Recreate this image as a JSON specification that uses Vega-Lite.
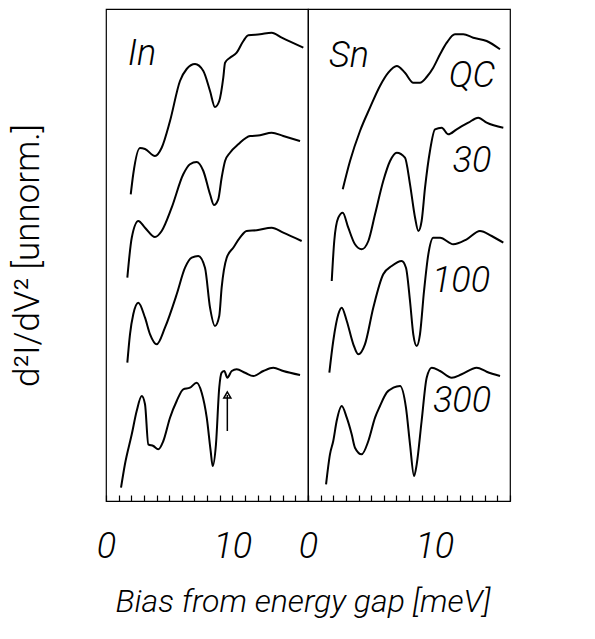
{
  "$schema": "https://vega.github.io/schema/vega-lite/v6.json",
  "background": "white",
  "padding": {"left": 10, "top": 8, "right": 5, "bottom": 5},
  "spacing": 0,
  "bounds": "flush",
  "config": {
    "view": {"stroke": "black", "strokeWidth": 1.2},
    "font": "Roboto"
  },
  "data": {"values": [
    {"panel":"In","kind":"curve","curve":"QC","x":1.96,"y":306.7},
    {"panel":"In","kind":"curve","curve":"QC","x":2.16,"y":327},
    {"panel":"In","kind":"curve","curve":"QC","x":2.69,"y":353},
    {"panel":"In","kind":"curve","curve":"QC","x":3.09,"y":352},
    {"panel":"In","kind":"curve","curve":"QC","x":3.88,"y":345},
    {"panel":"In","kind":"curve","curve":"QC","x":4.41,"y":353.3},
    {"panel":"In","kind":"curve","curve":"QC","x":5.07,"y":380},
    {"panel":"In","kind":"curve","curve":"QC","x":5.86,"y":420},
    {"panel":"In","kind":"curve","curve":"QC","x":6.39,"y":432},
    {"panel":"In","kind":"curve","curve":"QC","x":7.05,"y":437},
    {"panel":"In","kind":"curve","curve":"QC","x":7.71,"y":430},
    {"panel":"In","kind":"curve","curve":"QC","x":8.24,"y":410},
    {"panel":"In","kind":"curve","curve":"QC","x":8.63,"y":394},
    {"panel":"In","kind":"curve","curve":"QC","x":8.97,"y":400},
    {"panel":"In","kind":"curve","curve":"QC","x":9.29,"y":423.3},
    {"panel":"In","kind":"curve","curve":"QC","x":9.43,"y":438.3},
    {"panel":"In","kind":"curve","curve":"QC","x":9.82,"y":443.3},
    {"panel":"In","kind":"curve","curve":"QC","x":10.35,"y":448.3},
    {"panel":"In","kind":"curve","curve":"QC","x":10.88,"y":460},
    {"panel":"In","kind":"curve","curve":"QC","x":11.27,"y":465.7},
    {"panel":"In","kind":"curve","curve":"QC","x":12.2,"y":466.7},
    {"panel":"In","kind":"curve","curve":"QC","x":13.12,"y":468.3},
    {"panel":"In","kind":"curve","curve":"QC","x":13.92,"y":463.3},
    {"panel":"In","kind":"curve","curve":"QC","x":15.63,"y":453.3},

    {"panel":"In","kind":"curve","curve":"30","x":1.69,"y":223.3},
    {"panel":"In","kind":"curve","curve":"30","x":2.04,"y":263.3},
    {"panel":"In","kind":"curve","curve":"30","x":2.56,"y":280},
    {"panel":"In","kind":"curve","curve":"30","x":3.09,"y":273.3},
    {"panel":"In","kind":"curve","curve":"30","x":3.88,"y":264},
    {"panel":"In","kind":"curve","curve":"30","x":4.41,"y":270},
    {"panel":"In","kind":"curve","curve":"30","x":5.2,"y":293.3},
    {"panel":"In","kind":"curve","curve":"30","x":6.12,"y":326.7},
    {"panel":"In","kind":"curve","curve":"30","x":6.65,"y":336.7},
    {"panel":"In","kind":"curve","curve":"30","x":7.18,"y":339},
    {"panel":"In","kind":"curve","curve":"30","x":7.71,"y":330},
    {"panel":"In","kind":"curve","curve":"30","x":8.24,"y":306.7},
    {"panel":"In","kind":"curve","curve":"30","x":8.55,"y":296},
    {"panel":"In","kind":"curve","curve":"30","x":8.89,"y":301.7},
    {"panel":"In","kind":"curve","curve":"30","x":9.16,"y":323.3},
    {"panel":"In","kind":"curve","curve":"30","x":9.43,"y":340},
    {"panel":"In","kind":"curve","curve":"30","x":9.82,"y":348.3},
    {"panel":"In","kind":"curve","curve":"30","x":10.48,"y":356.7},
    {"panel":"In","kind":"curve","curve":"30","x":11.41,"y":365},
    {"panel":"In","kind":"curve","curve":"30","x":12.2,"y":365.7},
    {"panel":"In","kind":"curve","curve":"30","x":13.12,"y":368.3},
    {"panel":"In","kind":"curve","curve":"30","x":14.04,"y":365},
    {"panel":"In","kind":"curve","curve":"30","x":15.37,"y":360},

    {"panel":"In","kind":"curve","curve":"100","x":1.69,"y":138.3},
    {"panel":"In","kind":"curve","curve":"100","x":1.9,"y":166.7},
    {"panel":"In","kind":"curve","curve":"100","x":2.16,"y":186.7},
    {"panel":"In","kind":"curve","curve":"100","x":2.56,"y":198.3},
    {"panel":"In","kind":"curve","curve":"100","x":3.09,"y":183.3},
    {"panel":"In","kind":"curve","curve":"100","x":3.49,"y":166.7},
    {"panel":"In","kind":"curve","curve":"100","x":4.02,"y":156.7},
    {"panel":"In","kind":"curve","curve":"100","x":4.67,"y":173.3},
    {"panel":"In","kind":"curve","curve":"100","x":5.6,"y":206.7},
    {"panel":"In","kind":"curve","curve":"100","x":6.26,"y":233.3},
    {"panel":"In","kind":"curve","curve":"100","x":6.79,"y":243.3},
    {"panel":"In","kind":"curve","curve":"100","x":7.31,"y":245},
    {"panel":"In","kind":"curve","curve":"100","x":7.84,"y":233.3},
    {"panel":"In","kind":"curve","curve":"100","x":8.24,"y":193.3},
    {"panel":"In","kind":"curve","curve":"100","x":8.63,"y":175},
    {"panel":"In","kind":"curve","curve":"100","x":8.97,"y":185},
    {"panel":"In","kind":"curve","curve":"100","x":9.16,"y":213.3},
    {"panel":"In","kind":"curve","curve":"100","x":9.56,"y":243.3},
    {"panel":"In","kind":"curve","curve":"100","x":10.08,"y":253.3},
    {"panel":"In","kind":"curve","curve":"100","x":10.61,"y":263.3},
    {"panel":"In","kind":"curve","curve":"100","x":11.14,"y":270},
    {"panel":"In","kind":"curve","curve":"100","x":11.94,"y":270.7},
    {"panel":"In","kind":"curve","curve":"100","x":13.12,"y":273.3},
    {"panel":"In","kind":"curve","curve":"100","x":14.04,"y":268.3},
    {"panel":"In","kind":"curve","curve":"100","x":15.5,"y":260},

    {"panel":"In","kind":"curve","curve":"300","x":1.19,"y":13.3},
    {"panel":"In","kind":"curve","curve":"300","x":1.5,"y":36.7},
    {"panel":"In","kind":"curve","curve":"300","x":2.04,"y":66.7},
    {"panel":"In","kind":"curve","curve":"300","x":2.43,"y":90},
    {"panel":"In","kind":"curve","curve":"300","x":2.83,"y":105},
    {"panel":"In","kind":"curve","curve":"300","x":3.09,"y":96.7},
    {"panel":"In","kind":"curve","curve":"300","x":3.35,"y":56.7},
    {"panel":"In","kind":"curve","curve":"300","x":3.75,"y":55},
    {"panel":"In","kind":"curve","curve":"300","x":4.14,"y":51.7},
    {"panel":"In","kind":"curve","curve":"300","x":4.54,"y":60},
    {"panel":"In","kind":"curve","curve":"300","x":5.07,"y":83.3},
    {"panel":"In","kind":"curve","curve":"300","x":5.6,"y":100},
    {"panel":"In","kind":"curve","curve":"300","x":6.12,"y":111.7},
    {"panel":"In","kind":"curve","curve":"300","x":6.65,"y":113.3},
    {"panel":"In","kind":"curve","curve":"300","x":7.18,"y":118.3},
    {"panel":"In","kind":"curve","curve":"300","x":7.58,"y":108.3},
    {"panel":"In","kind":"curve","curve":"300","x":7.98,"y":83.3},
    {"panel":"In","kind":"curve","curve":"300","x":8.29,"y":50},
    {"panel":"In","kind":"curve","curve":"300","x":8.45,"y":35},
    {"panel":"In","kind":"curve","curve":"300","x":8.71,"y":56.7},
    {"panel":"In","kind":"curve","curve":"300","x":8.97,"y":113.3},
    {"panel":"In","kind":"curve","curve":"300","x":9.16,"y":128.3},
    {"panel":"In","kind":"curve","curve":"300","x":9.37,"y":130},
    {"panel":"In","kind":"curve","curve":"300","x":9.61,"y":123.3},
    {"panel":"In","kind":"curve","curve":"300","x":9.96,"y":130},
    {"panel":"In","kind":"curve","curve":"300","x":10.35,"y":131.7},
    {"panel":"In","kind":"curve","curve":"300","x":11.01,"y":128.3},
    {"panel":"In","kind":"curve","curve":"300","x":11.67,"y":125},
    {"panel":"In","kind":"curve","curve":"300","x":12.46,"y":130},
    {"panel":"In","kind":"curve","curve":"300","x":13.25,"y":133.3},
    {"panel":"In","kind":"curve","curve":"300","x":14.04,"y":130},
    {"panel":"In","kind":"curve","curve":"300","x":15.37,"y":126},

    {"panel":"Sn","kind":"curve","curve":"QC","x":2.75,"y":311.7},
    {"panel":"Sn","kind":"curve","curve":"QC","x":3.33,"y":340},
    {"panel":"Sn","kind":"curve","curve":"QC","x":4.12,"y":370},
    {"panel":"Sn","kind":"curve","curve":"QC","x":4.91,"y":393.3},
    {"panel":"Sn","kind":"curve","curve":"QC","x":5.7,"y":415},
    {"panel":"Sn","kind":"curve","curve":"QC","x":6.36,"y":428.3},
    {"panel":"Sn","kind":"curve","curve":"QC","x":7.03,"y":435},
    {"panel":"Sn","kind":"curve","curve":"QC","x":7.68,"y":428.3},
    {"panel":"Sn","kind":"curve","curve":"QC","x":8.34,"y":418.3},
    {"panel":"Sn","kind":"curve","curve":"QC","x":8.87,"y":418.3},
    {"panel":"Sn","kind":"curve","curve":"QC","x":9.4,"y":424},
    {"panel":"Sn","kind":"curve","curve":"QC","x":9.92,"y":433.3},
    {"panel":"Sn","kind":"curve","curve":"QC","x":10.46,"y":446.7},
    {"panel":"Sn","kind":"curve","curve":"QC","x":10.99,"y":458.3},
    {"panel":"Sn","kind":"curve","curve":"QC","x":11.64,"y":466.7},
    {"panel":"Sn","kind":"curve","curve":"QC","x":12.3,"y":466.7},
    {"panel":"Sn","kind":"curve","curve":"QC","x":13.09,"y":463.3},
    {"panel":"Sn","kind":"curve","curve":"QC","x":14.15,"y":460},
    {"panel":"Sn","kind":"curve","curve":"QC","x":15.21,"y":451.7},

    {"panel":"Sn","kind":"curve","curve":"30","x":1.88,"y":220},
    {"panel":"Sn","kind":"curve","curve":"30","x":2.08,"y":260},
    {"panel":"Sn","kind":"curve","curve":"30","x":2.4,"y":283.3},
    {"panel":"Sn","kind":"curve","curve":"30","x":2.75,"y":288.3},
    {"panel":"Sn","kind":"curve","curve":"30","x":3.19,"y":273.3},
    {"panel":"Sn","kind":"curve","curve":"30","x":3.72,"y":256.7},
    {"panel":"Sn","kind":"curve","curve":"30","x":4.25,"y":251.7},
    {"panel":"Sn","kind":"curve","curve":"30","x":4.78,"y":260},
    {"panel":"Sn","kind":"curve","curve":"30","x":5.31,"y":286.7},
    {"panel":"Sn","kind":"curve","curve":"30","x":5.96,"y":320},
    {"panel":"Sn","kind":"curve","curve":"30","x":6.5,"y":340},
    {"panel":"Sn","kind":"curve","curve":"30","x":7.03,"y":348.3},
    {"panel":"Sn","kind":"curve","curve":"30","x":7.68,"y":343.3},
    {"panel":"Sn","kind":"curve","curve":"30","x":8.08,"y":316.7},
    {"panel":"Sn","kind":"curve","curve":"30","x":8.48,"y":283.3},
    {"panel":"Sn","kind":"curve","curve":"30","x":8.74,"y":270},
    {"panel":"Sn","kind":"curve","curve":"30","x":9.0,"y":280},
    {"panel":"Sn","kind":"curve","curve":"30","x":9.27,"y":313.3},
    {"panel":"Sn","kind":"curve","curve":"30","x":9.66,"y":350},
    {"panel":"Sn","kind":"curve","curve":"30","x":10.06,"y":371.7},
    {"panel":"Sn","kind":"curve","curve":"30","x":10.59,"y":373.3},
    {"panel":"Sn","kind":"curve","curve":"30","x":11.11,"y":366.7},
    {"panel":"Sn","kind":"curve","curve":"30","x":11.78,"y":371.7},
    {"panel":"Sn","kind":"curve","curve":"30","x":12.7,"y":378.3},
    {"panel":"Sn","kind":"curve","curve":"30","x":13.49,"y":383.3},
    {"panel":"Sn","kind":"curve","curve":"30","x":14.15,"y":378.3},
    {"panel":"Sn","kind":"curve","curve":"30","x":15.47,"y":373.3},

    {"panel":"Sn","kind":"curve","curve":"100","x":1.69,"y":128.3},
    {"panel":"Sn","kind":"curve","curve":"100","x":2.0,"y":160},
    {"panel":"Sn","kind":"curve","curve":"100","x":2.4,"y":186.7},
    {"panel":"Sn","kind":"curve","curve":"100","x":2.67,"y":193.3},
    {"panel":"Sn","kind":"curve","curve":"100","x":3.07,"y":180},
    {"panel":"Sn","kind":"curve","curve":"100","x":3.59,"y":156.7},
    {"panel":"Sn","kind":"curve","curve":"100","x":3.98,"y":146.7},
    {"panel":"Sn","kind":"curve","curve":"100","x":4.51,"y":156.7},
    {"panel":"Sn","kind":"curve","curve":"100","x":5.17,"y":193.3},
    {"panel":"Sn","kind":"curve","curve":"100","x":5.96,"y":226.7},
    {"panel":"Sn","kind":"curve","curve":"100","x":6.63,"y":235},
    {"panel":"Sn","kind":"curve","curve":"100","x":7.42,"y":240},
    {"panel":"Sn","kind":"curve","curve":"100","x":7.76,"y":233.3},
    {"panel":"Sn","kind":"curve","curve":"100","x":8.08,"y":200},
    {"panel":"Sn","kind":"curve","curve":"100","x":8.34,"y":166.7},
    {"panel":"Sn","kind":"curve","curve":"100","x":8.61,"y":155},
    {"panel":"Sn","kind":"curve","curve":"100","x":8.87,"y":166.7},
    {"panel":"Sn","kind":"curve","curve":"100","x":9.19,"y":210},
    {"panel":"Sn","kind":"curve","curve":"100","x":9.53,"y":246.7},
    {"panel":"Sn","kind":"curve","curve":"100","x":9.92,"y":263.3},
    {"panel":"Sn","kind":"curve","curve":"100","x":10.46,"y":263.3},
    {"panel":"Sn","kind":"curve","curve":"100","x":11.51,"y":256.7},
    {"panel":"Sn","kind":"curve","curve":"100","x":12.57,"y":261.7},
    {"panel":"Sn","kind":"curve","curve":"100","x":13.62,"y":270},
    {"panel":"Sn","kind":"curve","curve":"100","x":14.55,"y":265},
    {"panel":"Sn","kind":"curve","curve":"100","x":15.47,"y":258.3},

    {"panel":"Sn","kind":"curve","curve":"300","x":1.43,"y":16.7},
    {"panel":"Sn","kind":"curve","curve":"300","x":1.74,"y":46.7},
    {"panel":"Sn","kind":"curve","curve":"300","x":2.0,"y":60},
    {"panel":"Sn","kind":"curve","curve":"300","x":2.27,"y":80},
    {"panel":"Sn","kind":"curve","curve":"300","x":2.67,"y":95},
    {"panel":"Sn","kind":"curve","curve":"300","x":3.07,"y":83.3},
    {"panel":"Sn","kind":"curve","curve":"300","x":3.46,"y":66.7},
    {"panel":"Sn","kind":"curve","curve":"300","x":3.72,"y":53.3},
    {"panel":"Sn","kind":"curve","curve":"300","x":4.25,"y":46.7},
    {"panel":"Sn","kind":"curve","curve":"300","x":4.78,"y":60},
    {"panel":"Sn","kind":"curve","curve":"300","x":5.31,"y":83.3},
    {"panel":"Sn","kind":"curve","curve":"300","x":5.7,"y":95},
    {"panel":"Sn","kind":"curve","curve":"300","x":6.23,"y":108.3},
    {"panel":"Sn","kind":"curve","curve":"300","x":6.76,"y":113.3},
    {"panel":"Sn","kind":"curve","curve":"300","x":7.29,"y":115},
    {"panel":"Sn","kind":"curve","curve":"300","x":7.76,"y":93.3},
    {"panel":"Sn","kind":"curve","curve":"300","x":8.08,"y":56.7},
    {"panel":"Sn","kind":"curve","curve":"300","x":8.4,"y":25},
    {"panel":"Sn","kind":"curve","curve":"300","x":8.61,"y":36.7},
    {"panel":"Sn","kind":"curve","curve":"300","x":9.0,"y":80},
    {"panel":"Sn","kind":"curve","curve":"300","x":9.4,"y":123.3},
    {"panel":"Sn","kind":"curve","curve":"300","x":9.8,"y":133.3},
    {"panel":"Sn","kind":"curve","curve":"300","x":10.46,"y":130},
    {"panel":"Sn","kind":"curve","curve":"300","x":11.38,"y":123.3},
    {"panel":"Sn","kind":"curve","curve":"300","x":12.17,"y":126.7},
    {"panel":"Sn","kind":"curve","curve":"300","x":13.36,"y":133.3},
    {"panel":"Sn","kind":"curve","curve":"300","x":14.15,"y":129.3},
    {"panel":"Sn","kind":"curve","curve":"300","x":15.21,"y":125},

    {"panel":"In","kind":"label","text":"In","x":2.85,"y":447},
    {"panel":"Sn","kind":"label","text":"Sn","x":3.25,"y":445},
    {"panel":"Sn","kind":"label","text":"QC","x":12.99,"y":425},
    {"panel":"Sn","kind":"label","text":"30","x":12.99,"y":340},
    {"panel":"Sn","kind":"label","text":"100","x":12.12,"y":220},
    {"panel":"Sn","kind":"label","text":"300","x":12.2,"y":100},

    {"panel":"In","kind":"arrow","x":9.61,"y":70,"y2":106}
  ]},
  "facet": {
    "column": {
      "field": "panel", "type": "nominal", "sort": ["In", "Sn"],
      "header": {
        "labels": false,
        "title": "Bias from energy gap [meV]",
        "titleOrient": "bottom",
        "titleFont": "Roboto",
        "titleFontSize": 32,
        "titleFontStyle": "italic",
        "titleFontWeight": 300,
        "titleColor": "black",
        "titlePadding": 76
      }
    }
  },
  "resolve": {"scale": {"x": "independent"}, "axis": {"x": "independent"}},
  "spec": {
    "width": 202,
    "height": 492,
    "layer": [
      {
        "transform": [{"filter": "datum.kind === 'curve'"}],
        "mark": {"type": "line", "color": "black", "strokeWidth": 2, "strokeJoin": "round", "interpolate": "monotone"},
        "encoding": {
          "x": {
            "field": "x", "type": "quantitative", "title": "",
            "scale": {"domain": [0, 16], "nice": false, "zero": false},
            "axis": {
              "orient": "bottom",
              "values": [0,1,2,3,4,5,6,7,8,9,10,11,12,13,14,15,16],
              "domain": false,
              "grid": false,
              "title": null,
              "zindex": 1,
              "tickColor": "black",
              "tickWidth": 1.2,
              "tickSize": -6,
              "labelExpr": "datum.value === 0 || datum.value === 10 ? datum.label : ''",
              "labelFlush": false,
              "labelOverlap": false,
              "labelFont": "Roboto",
              "labelFontSize": 36,
              "labelFontStyle": "italic",
              "labelFontWeight": 300,
              "labelColor": "black",
              "labelPadding": 34
            }
          },
          "y": {
            "field": "y", "type": "quantitative",
            "scale": {"domain": [0, 492], "nice": false, "zero": false},
            "axis": {
              "title": "d²I/dV² [unnorm.]",
              "domain": false, "ticks": false, "labels": false, "grid": false,
              "titleFont": "Roboto",
              "titleFontSize": 35,
              "titleFontWeight": 300,
              "titleColor": "black",
              "titlePadding": 61
            }
          },
          "detail": {"field": "curve", "type": "nominal"}
        }
      },
      {
        "transform": [{"filter": "datum.kind === 'label'"}],
        "mark": {"type": "text", "font": "Roboto", "fontSize": 36, "fontStyle": "italic", "fontWeight": 300, "color": "black", "align": "center", "baseline": "middle"},
        "encoding": {
          "x": {"field": "x", "type": "quantitative", "axis": null},
          "y": {"field": "y", "type": "quantitative"},
          "text": {"field": "text"}
        }
      },
      {
        "transform": [{"filter": "datum.kind === 'arrow'"}],
        "mark": {"type": "rule", "color": "black", "strokeWidth": 1.5},
        "encoding": {
          "x": {"field": "x", "type": "quantitative", "axis": null},
          "y": {"field": "y", "type": "quantitative"},
          "y2": {"field": "y2"}
        }
      },
      {
        "transform": [{"filter": "datum.kind === 'arrow'"}],
        "mark": {"type": "point", "shape": "triangle-up", "filled": false, "color": "black", "strokeWidth": 1.5, "size": 50, "opacity": 1},
        "encoding": {
          "x": {"field": "x", "type": "quantitative", "axis": null},
          "y": {"field": "y2", "type": "quantitative"}
        }
      }
    ],
    "resolve": {"axis": {"x": "independent"}}
  }
}
